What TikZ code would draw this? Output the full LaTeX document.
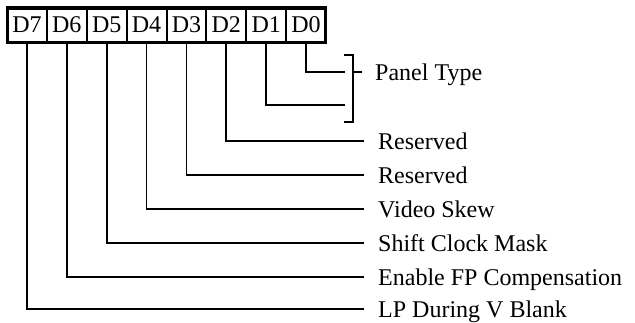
\documentclass[tikz,border=0pt]{standalone}
\usepackage{fontspec}
\setmainfont{Liberation Serif}
\begin{document}
\begin{tikzpicture}[x=1pt,y=-1pt,
  cell/.style={draw,line width=2pt,minimum width=39.875pt,minimum height=33pt,inner sep=0pt,font=\fontsize{24}{26}\selectfont},
  wire/.style={line width=1.8pt},
  lbl/.style={anchor=base west,inner sep=0pt,font=\fontsize{24}{28}\selectfont}]
\useasboundingbox (0,0) rectangle (635,322);
% register cells
\foreach \k/\n in {0/7,1/6,2/5,3/4,4/3,5/2,6/1,7/0}{
  \node[cell] (c\n) at ({7+39.875*(\k+0.5)},25) {D\n};
}
\draw[line width=2.5pt] (7.5,7.5) rectangle (325.5,42.5);
% free ends of the connectors
\coordinate (e0) at (345,72);
\coordinate (e1) at (345,105);
\coordinate (e2) at (364,141);
\coordinate (e3) at (364,175);
\coordinate (e4) at (364,209);
\coordinate (e5) at (364,243);
\coordinate (e6) at (364,277);
\coordinate (e7) at (364,309);
\foreach \n in {0,...,7}{
  \draw[wire] (c\n.south) |- (e\n);
}
% bracket for D1..D0
\coordinate (bt) at (344,55);
\coordinate (bb) at (344,122);
\coordinate (bm) at (362,72);
\draw[wire] (bt) -- (353,55) -- (353,122) -- (bb);
\draw[wire] (353,72) -- (bm);
\node[lbl] (lpt) at ([xshift=13pt,yshift=-8pt]bm) {Panel Type};
% labels
\node[lbl] (l2) at ([xshift=14pt,yshift=-8pt]e2) {Reserved};
\node[lbl] (l3) at ([xshift=14pt,yshift=-8pt]e3) {Reserved};
\node[lbl] (l4) at ([xshift=14pt,yshift=-8pt]e4) {Video Skew};
\node[lbl] (l5) at ([xshift=14pt,yshift=-8pt]e5) {Shift Clock Mask};
\node[lbl] (l6) at ([xshift=14pt,yshift=-8pt]e6) {Enable FP Compensation};
\node[lbl] (l7) at ([xshift=14pt,yshift=-8pt]e7) {LP During V Blank};
\end{tikzpicture}
\end{document}
